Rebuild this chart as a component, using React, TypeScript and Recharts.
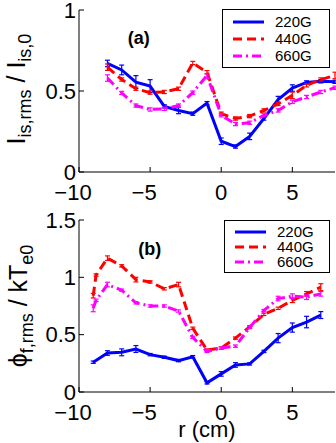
import React from 'react';
import { LineChart, Line, XAxis, YAxis, ErrorBar, Legend, ReferenceDot } from 'recharts';

// panel (a): ion saturation current fluctuation
const rA = [-8, -7, -6, -5, -4, -3, -2, -1, 0, 1, 2, 3, 4, 5, 6, 7, 8];
const a220 = [0.67, 0.63, 0.555, 0.53, 0.405, 0.38, 0.36, 0.425, 0.19, 0.157, 0.22, 0.33, 0.447, 0.518, 0.553, 0.56, 0.557];
const a220err = [0.02, 0.03, 0.04, 0.04, 0.01, 0.02, 0.01, 0.01, 0.02, 0.01, 0.02, 0.01, 0.02, 0.02, 0.01, 0.01, 0.01];
const a440 = [0.647, 0.571, 0.514, 0.49, 0.494, 0.514, 0.673, 0.616, 0.36, 0.33, 0.345, 0.38, 0.42, 0.473, 0.535, 0.571, 0.596];
const a440err = [0.02, 0.01, 0.01, 0.01, 0.01, 0.01, 0.01, 0.01, 0.01, 0.01, 0.01, 0.01, 0.01, 0.02, 0.01, 0.01, 0.02];
const a660 = [0.58, 0.488, 0.41, 0.386, 0.39, 0.41, 0.49, 0.596, 0.35, 0.296, 0.304, 0.35, 0.38, 0.433, 0.463, 0.494, 0.52];
const a660err = [0.02, 0.01, 0.01, 0.01, 0.01, 0.01, 0.01, 0.01, 0.01, 0.01, 0.01, 0.01, 0.01, 0.01, 0.01, 0.01, 0.01];

// panel (b): floating potential fluctuation
const rB = [-9, -8, -7, -6, -5, -4, -3, -2, -1, 0, 1, 2, 3, 4, 5, 6, 7];
const b220 = [0.26, 0.34, 0.346, 0.375, 0.326, 0.303, 0.274, 0.308, 0.08, 0.158, 0.236, 0.245, 0.354, 0.47, 0.562, 0.61, 0.671];
const b220err = [0.01, 0.02, 0.03, 0.03, 0.01, 0.01, 0.01, 0.01, 0.01, 0.02, 0.02, 0.01, 0.01, 0.04, 0.04, 0.05, 0.03];
const rB2 = [-9, -8.8, -8, -7, -6, -5, -4, -3, -2, -1, 0, 1, 2, 3, 4, 5, 6, 7];
const b440 = [0.84, 1.02, 1.167, 1.1, 0.98, 0.96, 0.9, 0.937, 0.556, 0.366, 0.383, 0.47, 0.568, 0.677, 0.73, 0.8, 0.856, 0.914];
const b440err = [0.02, 0.01, 0.02, 0.01, 0.02, 0.01, 0.01, 0.02, 0.01, 0.01, 0.01, 0.01, 0.01, 0.01, 0.01, 0.02, 0.02, 0.03];
const b660 = [0.73, 0.8, 0.937, 0.888, 0.778, 0.75, 0.75, 0.706, 0.476, 0.354, 0.383, 0.4, 0.562, 0.71, 0.815, 0.836, 0.827, 0.856];
const b660err = [0.03, 0.01, 0.02, 0.01, 0.01, 0.01, 0.01, 0.01, 0.01, 0.01, 0.01, 0.01, 0.01, 0.01, 0.02, 0.02, 0.02, 0.02];

const xTicks = [-10, -5, 0, 5];
const yTicksA = [0, 0.5, 1];
const yTicksB = [0, 0.5, 1, 1.5];

const SERIES = [
  { name: '220G', color: '#0000ff', dash: undefined },
  { name: '440G', color: '#ff0000', dash: '9 5' },
  { name: '660G', color: '#ff00ff', dash: '9 4 2 4' },
];

const FONT = '"Liberation Sans", Arial, Helvetica, sans-serif';

const toPoints = (xs: number[], ys: number[], errs: number[]) =>
  xs.map((r, i) => ({ r, v: ys[i], e: errs[i] }));

const XTick = (props: any) => {
  const { x, y, payload } = props;
  const v = payload.value;
  const neg = v < 0;
  return (
    <text x={x} y={y} dy="0.71em" dx={neg ? -6 : 0} textAnchor="middle" fontSize={22} fontFamily={FONT} fill="#000">
      {neg ? '\u2212' + Math.abs(v) : String(v)}
    </text>
  );
};

const YTick = (props: any) => {
  const { x, y, payload } = props;
  return (
    <text x={x} y={y} dy="0.355em" textAnchor="end" fontSize={22} fontFamily={FONT} fill="#000">
      {String(payload.value)}
    </text>
  );
};

const LegendBox = ({ rowH }: { rowH: number }) => (
  <div style={{ border: '1px solid #000', background: '#fff', boxSizing: 'border-box', padding: '3px 0', fontFamily: FONT }}>
    {SERIES.map((s) => (
      <div key={s.name} style={{ display: 'flex', alignItems: 'center', height: rowH }}>
        <svg width={48} height={8} style={{ display: 'block' }}>
          <line x1={10} x2={41} y1={4} y2={4} stroke={s.color} strokeWidth={3} strokeDasharray={s.dash} />
        </svg>
        <span style={{ fontSize: 15, marginLeft: 4, color: '#000' }}>{s.name}</span>
      </div>
    ))}
  </div>
);

const TitleA = (p: any) => {
  const vb = p.viewBox;
  const cx = vb.x + 25;
  const cy = vb.y + vb.height / 2 - 2;
  return (
    <text x={cx} y={cy} transform={`rotate(-90, ${cx}, ${cy})`} textAnchor="middle" fontSize={25} fontFamily={FONT} fill="#000">
      I<tspan fontSize={18} dy={6}>is,rms</tspan>
      <tspan dy={-6}> / I</tspan>
      <tspan fontSize={18} dy={6}>is,0</tspan>
    </text>
  );
};

const TitleB = (p: any) => {
  const vb = p.viewBox;
  const cx = vb.x + 27;
  const cy = vb.y + vb.height / 2;
  return (
    <text x={cx} y={cy} transform={`rotate(-90, ${cx}, ${cy})`} textAnchor="middle" fontSize={25} fontFamily={FONT} fill="#000">
      {'\u03D5'}<tspan fontSize={18} dy={6}>f,rms</tspan>
      <tspan dy={-6}> / kT</tspan>
      <tspan fontSize={18} dy={6}>e0</tspan>
    </text>
  );
};

const XTitle = (p: any) => {
  const vb = p.viewBox;
  return (
    <text x={vb.x + vb.width / 2} y={vb.y + 45} textAnchor="middle" fontSize={22} fontFamily={FONT} fill="#000">
      r (cm)
    </text>
  );
};

const frameAxes = (yDomain: number[], yTicks: number[], title: any, xTitle?: any) => [
  <XAxis key="xb" dataKey="r" type="number" domain={[-10, 8]} ticks={xTicks} allowDataOverflow stroke="#000"
    tickSize={-5} tickMargin={17} height={xTitle ? 51 : 38} tick={<XTick />} label={xTitle} />,
  <XAxis key="xt" xAxisId="top" orientation="top" dataKey="r" type="number" domain={[-10, 8]} ticks={xTicks}
    allowDataOverflow stroke="#000" tickSize={-5} tick={false} height={0} />,
  <YAxis key="yl" type="number" domain={yDomain} ticks={yTicks} allowDataOverflow stroke="#000" width={79}
    tickSize={-5} tickMargin={8} tick={<YTick />} label={title} />,
  <YAxis key="yr" yAxisId="right" orientation="right" type="number" domain={yDomain} ticks={yTicks}
    allowDataOverflow stroke="#000" width={0} tickSize={-5} tick={false} />,
];

const seriesLines = (sets: { r: number; v: number; e: number }[][]) =>
  sets.map((data, i) => (
    <Line
      key={SERIES[i].name}
      name={SERIES[i].name}
      data={data}
      dataKey="v"
      type="linear"
      stroke={SERIES[i].color}
      strokeWidth={3}
      strokeDasharray={SERIES[i].dash}
      dot={false}
      isAnimationActive={false}
    >
      <ErrorBar dataKey="e" direction="y" width={2.5} strokeWidth={1.2} stroke={SERIES[i].color} />
    </Line>
  ));

export default function App() {
  const setsA = [toPoints(rA, a220, a220err), toPoints(rA, a440, a440err), toPoints(rA, a660, a660err)];
  const setsB = [toPoints(rB, b220, b220err), toPoints(rB2, b440, b440err), toPoints(rB2, b660, b660err)];

  return (
    <div style={{ position: 'absolute', left: 0, top: 0, width: 336, height: 443, overflow: 'hidden', background: '#fff' }}>
      <div style={{ position: 'absolute', left: 0, top: 0 }}>
        <LineChart width={336} height={210} margin={{ top: 10, right: 1, left: 0, bottom: 0 }}>
          {frameAxes([0, 1], yTicksA, (p: any) => <TitleA {...p} />)}
          {seriesLines(setsA)}
          <ReferenceDot x={-5.8} y={0.83} r={1} fill="none" stroke="none"
            label={{ value: '(a)', position: 'center', fontSize: 18, fontWeight: 'bold', fill: '#000', fontFamily: FONT }} />
          <Legend layout="vertical" align="center" verticalAlign="middle"
            wrapperStyle={{ left: 222, top: 9, width: 108 }} content={() => <LegendBox rowH={17} />} />
        </LineChart>
      </div>
      <div style={{ position: 'absolute', left: 0, top: 210 }}>
        <LineChart width={336} height={233} margin={{ top: 10, right: 1, left: 0, bottom: 0 }}>
          {frameAxes([0, 1.5], yTicksB, (p: any) => <TitleB {...p} />, (p: any) => <XTitle {...p} />)}
          {seriesLines(setsB)}
          <ReferenceDot x={-5.03} y={1.247} r={1} fill="none" stroke="none"
            label={{ value: '(b)', position: 'center', fontSize: 18, fontWeight: 'bold', fill: '#000', fontFamily: FONT }} />
          <Legend layout="vertical" align="center" verticalAlign="middle"
            wrapperStyle={{ left: 224, top: 10, width: 106 }} content={() => <LegendBox rowH={15} />} />
        </LineChart>
      </div>
    </div>
  );
}
